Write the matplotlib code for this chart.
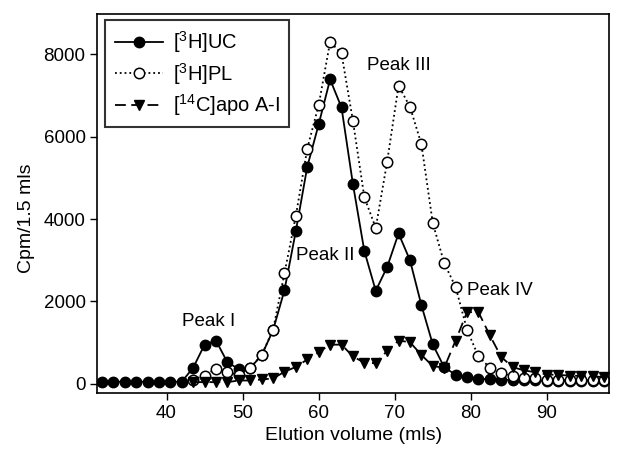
import numpy as np
import matplotlib
matplotlib.use("Agg")
import matplotlib.pyplot as plt

plt.rcParams['font.family'] = ['Liberation Sans', 'DejaVu Sans']
plt.rcParams['mathtext.fontset'] = 'custom'
plt.rcParams['mathtext.rm'] = 'Liberation Sans'
plt.rcParams['mathtext.it'] = 'Liberation Sans:italic'

# elution volume, fractions of 1.5 ml
volume = [31.5 + 1.5 * i for i in range(45)]

uc = [50, 50, 50, 50, 50, 50, 50, 50,
      390, 950, 1050, 520, 360, 385, 690, 1300, 2270, 3710, 5270, 6300,
      7390, 6710, 4850, 3225, 2260, 2835, 3650, 3000, 1910, 955, 400,
      220, 160, 120, 110, 100, 90, 85, 80, 75, 70, 70, 70, 70, 70]

# PL and apo A-I start at 43.5 ml
vol_late = volume[8:]
pl = [100, 200, 370, 280, 220, 385, 700, 1310, 2680, 4080, 5710, 6770,
      8300, 8020, 6385, 4530, 3785, 5390, 7240, 6725, 5820, 3900, 2930,
      2350, 1310, 665, 390, 260, 185, 145, 130, 100, 95, 90, 90, 85, 85]
apo = [40, 40, 40, 40, 80, 80, 105, 130, 290, 410, 590, 770, 950, 950,
       665, 510, 500, 800, 1050, 1010, 700, 430, 390, 1050, 1740, 1740,
       1175, 650, 405, 325, 280, 225, 215, 200, 190, 180, 165]

peaks = ['Peak I', 'Peak II', 'Peak III', 'Peak IV']
peak_x = [45.5, 60.9, 70.6, 83.8]
peak_y = [1520, 3120, 7740, 2270]

fs = 13.5

fig, ax = plt.subplots(figsize=(6.36, 4.5), dpi=100)

ax.plot(volume, uc, '-', color='black', lw=1.3, marker='o', ms=7.5,
        mfc='black', mec='black', label=r'[$^{3}$H]UC')
ax.plot(vol_late, pl, ':', color='black', lw=1.3, marker='o', ms=7.5,
        mfc='white', mec='black', mew=1.1, label=r'[$^{3}$H]PL')
ax.plot(vol_late, apo, '--', color='black', lw=1.3, marker='v', ms=7.5,
        mfc='black', mec='black', label=r'[$^{14}$C]apo A-I', dashes=(6, 3))

for name, px, py in zip(peaks, peak_x, peak_y):
    ax.text(px, py, name, ha='center', va='center', fontsize=fs)

ax.set_xlim(30.9, 98.2)
ax.set_ylim(-220, 8980)
ax.set_xticks([40, 50, 60, 70, 80, 90])
ax.set_yticks([0, 2000, 4000, 6000, 8000])
ax.tick_params(direction='out', length=5, width=1, labelsize=fs, colors='black')
for s in ax.spines.values():
    s.set_linewidth(1.2)

ax.set_xlabel('Elution volume (mls)', fontsize=14, labelpad=4)
ax.set_ylabel('Cpm/1.5 mls', fontsize=14, labelpad=6)
ax.yaxis.label.set_y(0.46)

leg = ax.legend(loc='upper left', bbox_to_anchor=(0.016, 0.984),
                borderaxespad=0, fontsize=14.5, handlelength=2.4,
                handletextpad=0.5, frameon=True, fancybox=False,
                edgecolor='black', labelspacing=0.28, borderpad=0.45)
leg.get_frame().set_linewidth(1.5)

plt.subplots_adjust(left=0.153, right=0.958, top=0.969, bottom=0.127)
plt.savefig('out.png', dpi=100)
